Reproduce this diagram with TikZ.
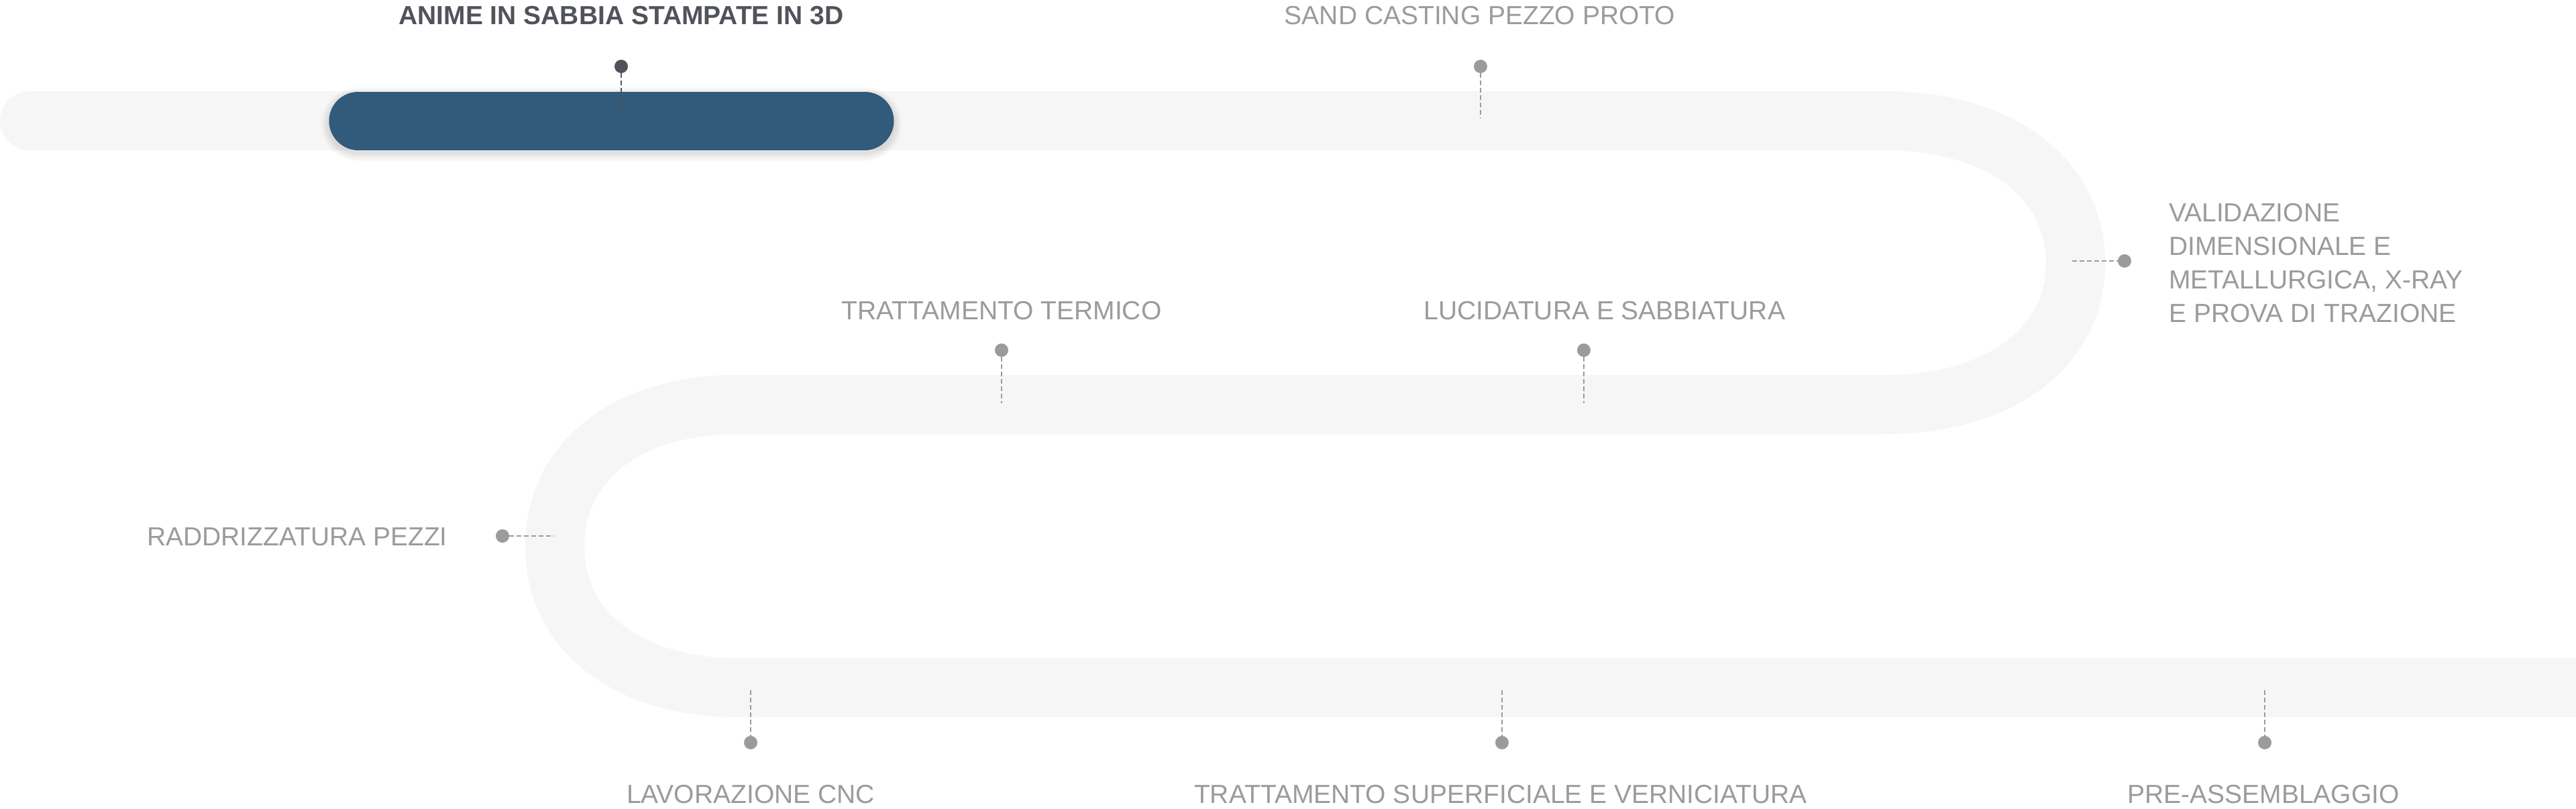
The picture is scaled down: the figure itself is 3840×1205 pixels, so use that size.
\documentclass[tikz,border=0pt]{standalone}
\usepackage{fontspec}
\setmainfont{Liberation Sans}
\usepackage{tikz}
\definecolor{trackgray}{HTML}{F6F6F6}
\definecolor{stageblue}{HTML}{325A7A}
\definecolor{labelgray}{HTML}{9B9B9B}
\definecolor{titlegray}{HTML}{505359}
\begin{document}
\begin{tikzpicture}[x=1pt,y=-1pt]
\tikzstyle{every node}+=[inner sep=0pt]
\tikzstyle{track}=[trackgray, line width=88pt, line cap=round]
\tikzstyle{stagedot}=[circle, fill=labelgray, minimum size=20pt]
\tikzstyle{stagelink}=[labelgray, line width=2.5pt, dash pattern=on 7pt off 4pt]
\tikzstyle{stagelabel}=[labelgray, font=\fontsize{39}{50}\selectfont, anchor=base]
\useasboundingbox (0,0) rectangle (3840,1205);
\fill [white] (0,0) rectangle (3840,1205);
% serpentine track
\draw [track] (44,180) -- (2810,180)
  .. controls (2980,180) and (3094,265) .. (3094,392)
  .. controls (3094,519) and (2980,603) .. (2810,603) -- (1099,603)
  .. controls (936,603) and (827,687) .. (827,814)
  .. controls (827,941) and (936,1025) .. (1099,1025) -- (3900,1025);
% current stage
\foreach \w in {90,94,98,102,106,110}
  \draw [black, opacity=0.02, line width=\w pt, line cap=round] (534,185) -- (1289,185);
\draw [stageblue, line width=87pt, line cap=round] (534,180) -- (1289,180);
% stages
\node [stagedot, fill=titlegray] (d1) at (926,99) {};
\coordinate (t1) at (926,176);
\draw [stagelink, titlegray] (d1) -- (t1);
\node [stagelabel, titlegray, font=\fontsize{39}{50}\selectfont\bfseries] (l1) at (926,36) {ANIME IN SABBIA STAMPATE IN 3D};
\node [stagedot] (d2) at (2207,99) {};
\coordinate (t2) at (2207,176);
\draw [stagelink] (d2) -- (t2);
\node [stagelabel] (l2) at (2206,36) {SAND CASTING PEZZO PROTO};
\node [stagedot] (d3) at (3167,389) {};
\coordinate (t3) at (3089,389);
\draw [stagelink] (t3) -- (d3);
\node [stagelabel, anchor=north west, align=left] (l3) at (3233,303) {VALIDAZIONE\\DIMENSIONALE E\\METALLURGICA, X-RAY\\E PROVA DI TRAZIONE};
\node [stagedot] (d4) at (2361,522) {};
\coordinate (t4) at (2361,601);
\draw [stagelink] (d4) -- (t4);
\node [stagelabel] (l4) at (2392,476) {LUCIDATURA E SABBIATURA};
\node [stagedot] (d5) at (1493,522) {};
\coordinate (t5) at (1493,601);
\draw [stagelink] (d5) -- (t5);
\node [stagelabel] (l5) at (1493,476) {TRATTAMENTO TERMICO};
\node [stagedot] (d6) at (749,799) {};
\coordinate (t6) at (826,799);
\draw [stagelink] (d6) -- (t6);
\node [stagelabel, anchor=base east] (l6) at (667,813) {RADDRIZZATURA PEZZI};
\node [stagedot] (d7) at (1119,1107) {};
\coordinate (t7) at (1119,1029);
\draw [stagelink] (t7) -- (d7);
\node [stagelabel] (l7) at (1119,1197) {LAVORAZIONE CNC};
\node [stagedot] (d8) at (2239,1107) {};
\coordinate (t8) at (2239,1029);
\draw [stagelink] (t8) -- (d8);
\node [stagelabel] (l8) at (2237,1197) {TRATTAMENTO SUPERFICIALE E VERNICIATURA};
\node [stagedot] (d9) at (3376,1107) {};
\coordinate (t9) at (3376,1029);
\draw [stagelink] (t9) -- (d9);
\node [stagelabel] (l9) at (3374,1197) {PRE-ASSEMBLAGGIO};
\end{tikzpicture}
\end{document}
